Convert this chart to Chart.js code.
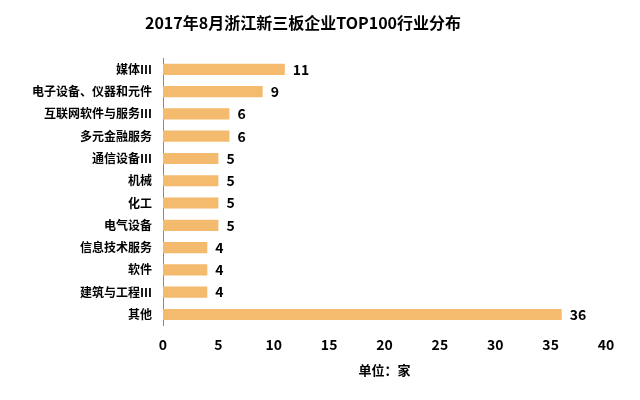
<!DOCTYPE html>
<html><head><meta charset="utf-8">
<script src="https://cdn.jsdelivr.net/npm/chart.js"></script>
<style>html,body{margin:0;padding:0;background:#fff}#c{width:640px;height:400px}</style>
</head><body><div id="c"><canvas id="cv"></canvas></div>
<script>
const categories=["媒体Ⅲ","电子设备、仪器和元件","互联网软件与服务Ⅲ","多元金融服务","通信设备Ⅲ","机械","化工","电气设备","信息技术服务","软件","建筑与工程Ⅲ","其他"];
const values=[11,9,6,6,5,5,5,5,4,4,4,36];
const tickValues=[0,5,10,15,20,25,30,35,40];
const labelPlugin={id:'lbl',afterDatasetsDraw(ch){const ctx=ch.ctx;const m=ch.getDatasetMeta(0);ctx.save();ctx.font='bold 14px "Noto Sans CJK SC", sans-serif';ctx.fillStyle='#000';ctx.textBaseline='middle';m.data.forEach((b,i)=>{ctx.fillText(values[i],b.x+8,b.y);});ctx.restore();}};
new Chart(document.getElementById('cv'),{type:'bar',data:{labels:categories,datasets:[{data:values,backgroundColor:'#F4BA6E',barPercentage:0.5,categoryPercentage:1}]},
options:{indexAxis:'y',responsive:true,maintainAspectRatio:false,animation:false,
layout:{padding:{left:0,right:34,top:5,bottom:18}},
plugins:{legend:{display:false},tooltip:{enabled:false},title:{display:true,text:'2017年8月浙江新三板企业TOP100行业分布',font:{size:16,weight:'bold',family:'"Noto Sans CJK SC", sans-serif'},color:'#000',padding:{top:8,bottom:26}}},
scales:{x:{min:0,max:40,ticks:{stepSize:5,color:'#000',padding:3,font:{size:14,weight:'bold',family:'"Noto Sans CJK SC", sans-serif'}},grid:{display:false},border:{display:false},title:{display:true,text:'单位：家',color:'#000',padding:{top:6},font:{size:13,weight:'bold',family:'"Noto Sans CJK SC", sans-serif'}}},
y:{afterFit(s){s.width=163;},ticks:{color:'#000',font:{size:12,weight:'bold',family:'"Noto Sans CJK SC", sans-serif'}},grid:{display:false},border:{color:'#888'}}}},plugins:[labelPlugin]});
</script></body></html>
